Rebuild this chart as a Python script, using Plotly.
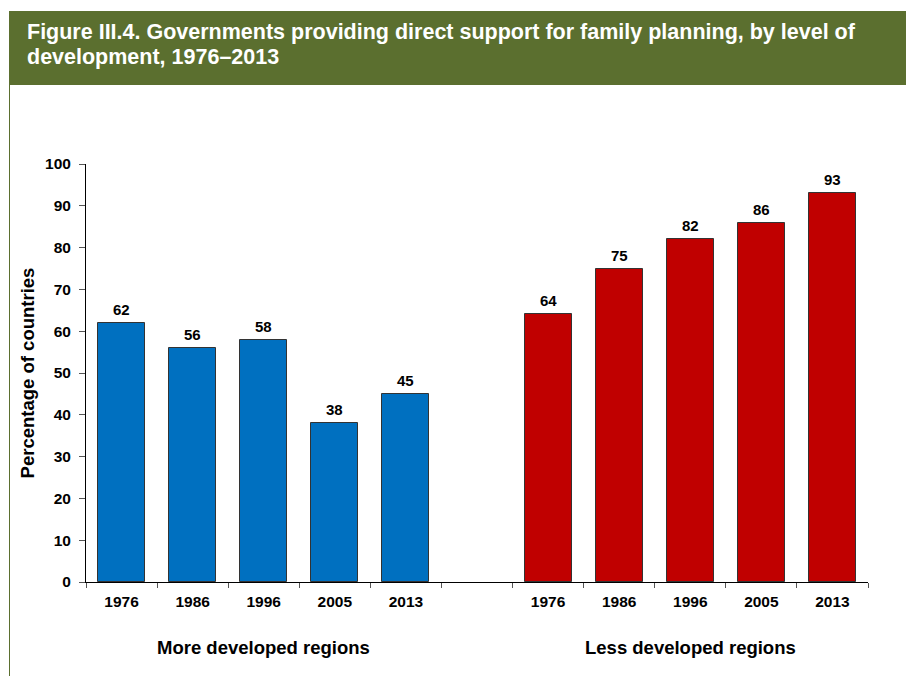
import plotly.graph_objects as go

# Data
years = ["1976", "1986", "1996", "2005", "2013"]
more_developed = [62, 56, 58, 38, 45]
less_developed = [64, 75, 82, 86, 93]
group_names = ["More developed regions", "Less developed regions"]
y_ticks = [0, 10, 20, 30, 40, 50, 60, 70, 80, 90, 100]

title_lines = [
    "Figure III.4. Governments providing direct support for family planning, by level of",
    "development, 1976–2013",
]

W, H = 906, 676
M_L, M_R, M_T, M_B = 86, 38, 164, 94
PW, PH = W - M_L - M_R, H - M_T - M_B

FONT = "Arial, Liberation Sans, sans-serif"
GREEN = "#5B6F2F"
BLUE = "#0070C0"
RED = "#C00000"


def px_x(p):
    return (p - M_L) / PW


def px_y(p):
    return (H - M_B - p) / PH


# positions: left group 0..4, gap at 5, right group 6..10
n = len(years)
pos_more = list(range(n))
pos_less = [i + n + 1 for i in range(n)]

fig = go.Figure()
fig.add_bar(x=pos_more, y=more_developed, width=0.66,
            marker=dict(color=BLUE, line=dict(color="#333333", width=1)),
            hoverinfo="y")
fig.add_bar(x=pos_less, y=less_developed, width=0.66,
            marker=dict(color=RED, line=dict(color="#333333", width=1)),
            hoverinfo="y")

annotations = []
# value labels above bars
for xs, vs in ((pos_more, more_developed), (pos_less, less_developed)):
    for x, v in zip(xs, vs):
        annotations.append(dict(x=x, y=v, xref="x", yref="y", text=f"<b>{v}</b>",
                                showarrow=False, yanchor="bottom", yshift=3,
                                font=dict(family=FONT, size=15, color="black")))

# group labels under the axis
for xs, name in ((pos_more, group_names[0]), (pos_less, group_names[1])):
    annotations.append(dict(x=(xs[0] + xs[-1]) / 2, y=0, xref="x", yref="paper",
                            text=f"<b>{name}</b>", showarrow=False,
                            yanchor="middle", yshift=-65,
                            font=dict(family=FONT, size=18.5, color="black")))

# banner title
for i, line in enumerate(title_lines):
    annotations.append(dict(x=px_x(25), y=px_y(32 + i * 25), xref="paper", yref="paper",
                            text=f"<b>{line}</b>", showarrow=False,
                            xanchor="left", yanchor="middle",
                            font=dict(family=FONT, size=21.5, color="white")))

shapes = [
    dict(type="rect", xref="paper", yref="paper",
         x0=px_x(9), x1=px_x(W + 2), y0=px_y(85), y1=px_y(11),
         fillcolor=GREEN, line=dict(width=0), layer="below"),
    dict(type="line", xref="paper", yref="paper",
         x0=px_x(9.5), x1=px_x(9.5), y0=px_y(85), y1=px_y(H + 2),
         line=dict(color=GREEN, width=1)),
]

fig.update_layout(
    width=W, height=H,
    margin=dict(l=M_L, r=M_R, t=M_T, b=M_B),
    paper_bgcolor="white", plot_bgcolor="white",
    showlegend=False,
    bargap=0,
    font=dict(family=FONT, color="black"),
    annotations=annotations,
    shapes=shapes,
    xaxis=dict(
        range=[-0.5, 2 * n + 0.5],
        tickmode="array",
        tickvals=pos_more + pos_less,
        ticktext=[f"<b>{y}</b>" for y in years * 2],
        ticks="outside", ticklen=5, tickcolor="rgba(0,0,0,0)",
        tickfont=dict(family=FONT, size=15.5, color="black"),
        showline=True, linecolor="black", linewidth=1,
        showgrid=False, zeroline=False,
        minor=dict(ticks="outside", ticklen=5, tickcolor="#555555",
                   tickmode="linear", tick0=-0.5, dtick=1, showgrid=False),
        fixedrange=True,
    ),
    yaxis=dict(
        range=[0, 100],
        tickmode="array", tickvals=y_ticks,
        ticktext=[f"<b>{t}</b>" for t in y_ticks],
        ticks="outside", ticklen=6, tickcolor="#555555",
        ticklabelstandoff=5,
        tickfont=dict(family=FONT, size=15.5, color="black"),
        showline=True, linecolor="black", linewidth=1,
        showgrid=False, zeroline=False,
        title=dict(text="<b>Percentage of countries</b>", standoff=5,
                   font=dict(family=FONT, size=18.5, color="black")),
        fixedrange=True,
    ),
)

fig.write_html("out.html")
